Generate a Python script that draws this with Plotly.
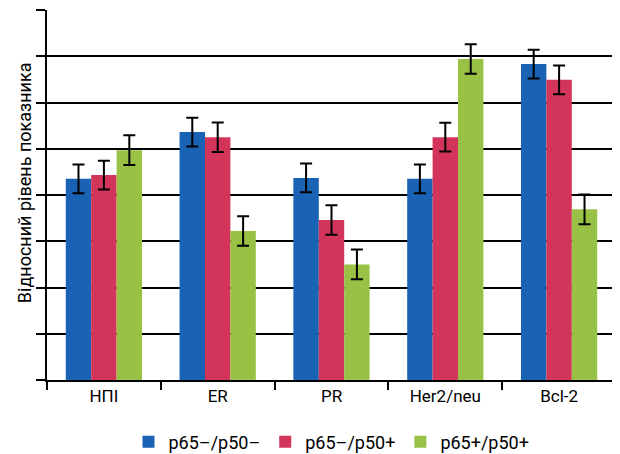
import plotly.graph_objects as go

categories = ["НПІ", "ER", "PR", "Her2/neu", "Bcl-2"]
series_names = ["p65–/p50–", "p65–/p50+", "p65+/p50+"]
vals_a = [4.35, 5.36, 4.37, 4.35, 6.83]
vals_b = [4.43, 5.25, 3.46, 5.25, 6.49]
vals_c = [4.97, 3.22, 2.50, 6.94, 3.69]
err_a = [0.31, 0.31, 0.31, 0.31, 0.31]
err_b = [0.31, 0.32, 0.32, 0.31, 0.31]
err_c = [0.32, 0.32, 0.32, 0.32, 0.32]
colors = ["#1a62b3", "#d3355a", "#99c145"]
y_title = "Відносний рівень показника"

FONT = "Roboto, Liberation Sans, sans-serif"

fig = go.Figure()
for name, vals, errs, col in zip(series_names, [vals_a, vals_b, vals_c], [err_a, err_b, err_c], colors):
    fig.add_trace(go.Bar(
        x=categories, y=vals, name=name, marker=dict(color=col, line=dict(width=0)),
        error_y=dict(type="data", array=errs, visible=True, color="black", thickness=2, width=6),
    ))

fig.add_annotation(text=y_title, textangle=-90, xref="paper", yref="paper",
                   x=-0.0404, y=0.532, xanchor="center", yanchor="middle", showarrow=False,
                   font=dict(family=FONT, size=18, color="black"))

# page body has an 8px default margin, so the figure is sized to fit the 620x454 window
fig.update_layout(
    width=612, height=446,
    margin=dict(l=39, r=4, t=2, b=74, autoexpand=False),
    paper_bgcolor="white", plot_bgcolor="white",
    barmode="group", bargap=0.33, bargroupgap=0,
    font=dict(family=FONT, size=17, color="black"),
    showlegend=True,
    legend=dict(orientation="h", x=0.5, xanchor="center", yref="container", y=0.027, yanchor="middle",
                font=dict(family=FONT, size=18), traceorder="normal"),
    xaxis=dict(showline=True, linecolor="black", linewidth=2, ticks="outside", ticklen=8,
               tickwidth=2, tickcolor="black", tickson="boundaries", showgrid=False,
               automargin=False, tickfont=dict(family=FONT, size=17)),
    yaxis=dict(range=[0, 8], dtick=1, showticklabels=False, showgrid=True, gridcolor="black",
               gridwidth=2, showline=True, linecolor="black", linewidth=2, ticks="outside",
               ticklen=9, tickwidth=2, tickcolor="black", zeroline=False, automargin=False),
)

fig.write_html("out.html")
